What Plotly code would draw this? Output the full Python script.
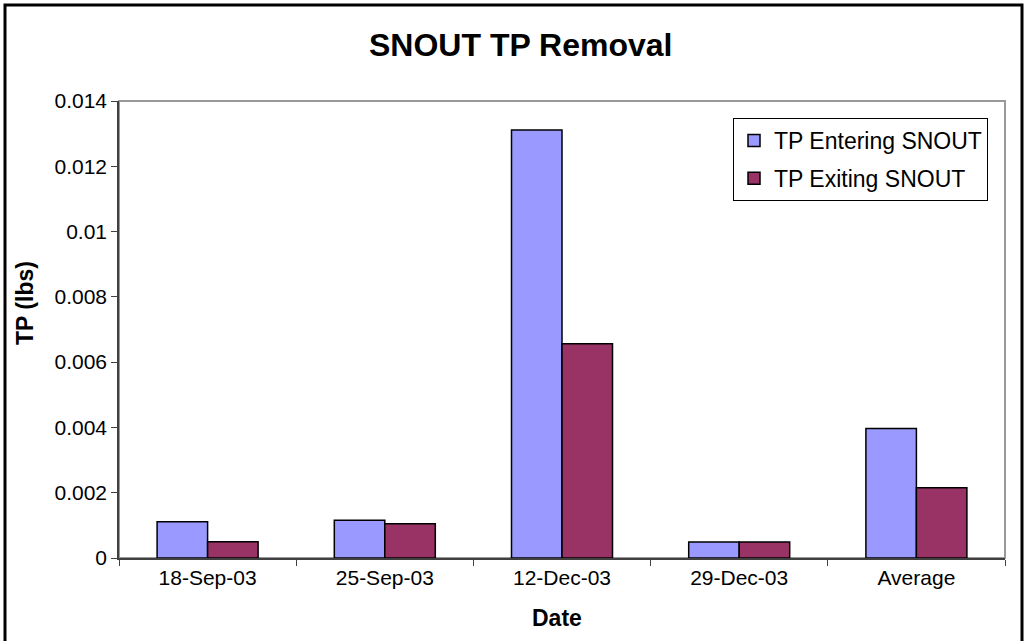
import plotly.graph_objects as go

categories = ["18-Sep-03", "25-Sep-03", "12-Dec-03", "29-Dec-03", "Average"]
tp_entering = [0.00111, 0.00116, 0.01311, 0.00049, 0.00397]
tp_exiting = [0.00050, 0.00105, 0.00656, 0.00049, 0.00215]
series_names = ["TP Entering SNOUT", "TP Exiting SNOUT"]
y_ticks = [0, 0.002, 0.004, 0.006, 0.008, 0.01, 0.012, 0.014]
y_ticklabels = ["0", "0.002", "0.004", "0.006", "0.008", "0.01", "0.012", "0.014"]

W, H = 1028, 641
L, R, T, B = 119, 23, 101, 83
pw, ph = W - L - R, H - T - B

def px_x(x):
    return (x - L) / pw

def px_y(y):
    return (H - B - y) / ph

FONT = "Liberation Sans, Arial, sans-serif"

fig = go.Figure()
fig.add_trace(go.Bar(x=categories, y=tp_entering, name=series_names[0], legendgroup="a",
                     marker=dict(color="#9999FF", line=dict(color="black", width=1.5))))
fig.add_trace(go.Bar(x=categories, y=tp_exiting, name=series_names[1], legendgroup="b",
                     marker=dict(color="#993366", line=dict(color="black", width=1.5))))

fig.update_layout(
    width=W, height=H,
    margin=dict(l=L, r=R, t=T, b=B, pad=0),
    paper_bgcolor="white", plot_bgcolor="white",
    font=dict(family=FONT, color="black", size=21),
    barmode="group", bargap=0.43, bargroupgap=0,
    showlegend=True,
    legend=dict(x=px_x(733), y=px_y(118), xanchor="left", yanchor="top",
                bordercolor="black", borderwidth=1, bgcolor="white",
                font=dict(size=23, family=FONT), tracegroupgap=5,
                itemwidth=30),
    xaxis=dict(showline=True, linecolor="#404040", linewidth=1.5,
               ticks="outside", tickson="boundaries", ticklen=6, tickcolor="#404040",
               tickfont=dict(size=21), showgrid=False, zeroline=False),
    yaxis=dict(range=[0, 0.014], tickvals=y_ticks, ticktext=y_ticklabels,
               showline=True, linecolor="#404040", linewidth=1.5,
               ticks="outside", ticklen=6, tickcolor="#404040",
               tickfont=dict(size=21), showgrid=False, zeroline=False),
    shapes=[
        dict(type="rect", xref="paper", yref="paper",
             x0=px_x(5), x1=px_x(1022), y0=px_y(660), y1=px_y(5),
             line=dict(color="black", width=3), fillcolor="rgba(0,0,0,0)", layer="below"),
        dict(type="rect", xref="paper", yref="paper", x0=0, x1=1, y0=0, y1=1,
             line=dict(color="#999999", width=2), fillcolor="rgba(0,0,0,0)", layer="below"),
    ],
    annotations=[
        dict(text="<b>SNOUT TP Removal</b>", xref="paper", yref="paper",
             x=px_x(520), y=px_y(45), showarrow=False, font=dict(size=32, family=FONT),
             xanchor="center", yanchor="middle"),
        dict(text="<b>Date</b>", xref="paper", yref="paper",
             x=px_x(557), y=px_y(618), showarrow=False, font=dict(size=23, family=FONT),
             xanchor="center", yanchor="middle"),
        dict(text="<b>TP (lbs)</b>", xref="paper", yref="paper", textangle=-90,
             x=px_x(25), y=px_y(303), showarrow=False, font=dict(size=23, family=FONT),
             xanchor="center", yanchor="middle"),
    ],
)

fig.write_html("out.html", config={"displayModeBar": False},
               post_script="document.body.style.margin='0';document.body.style.overflow='hidden';")
